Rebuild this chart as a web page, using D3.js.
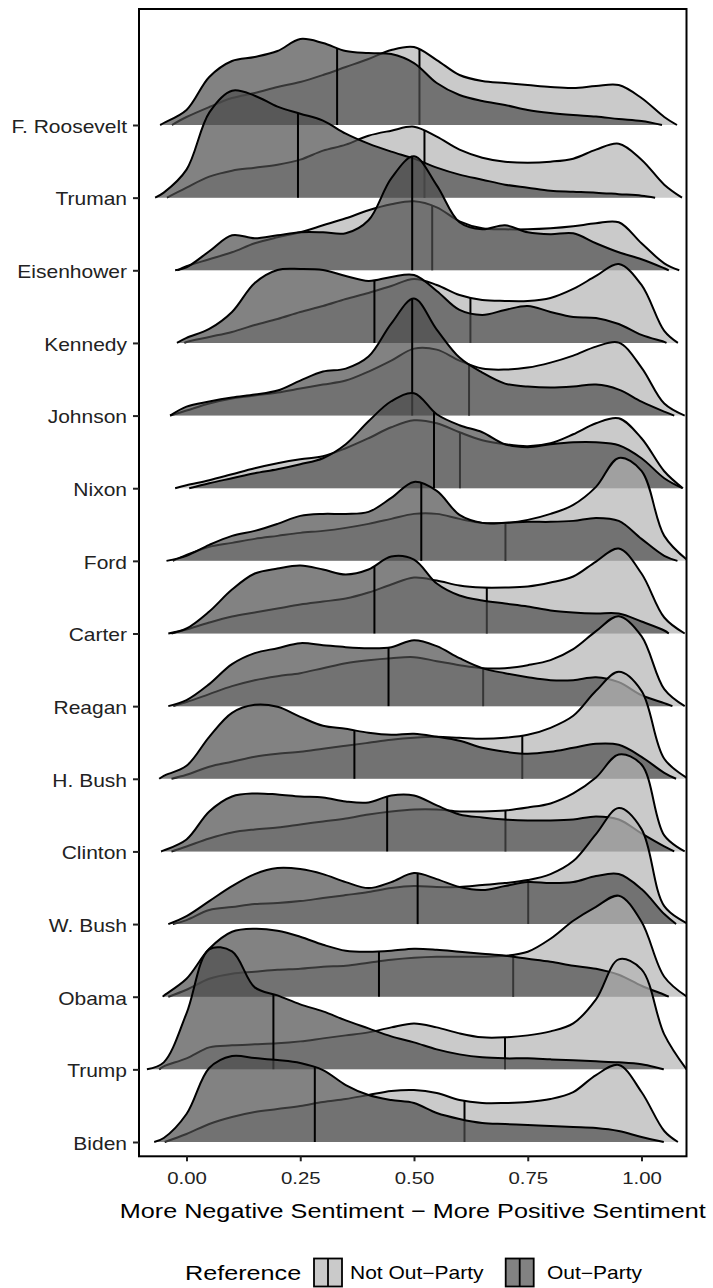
<!DOCTYPE html>
<html>
<head>
<meta charset="utf-8">
<script src="https://cdn.jsdelivr.net/npm/d3@7"></script>
<style>
  body { margin: 0; background: #fff; }
  text { font-family: "Liberation Sans", Arial, Helvetica, sans-serif; fill: #222; }
</style>
</head>
<body>
<svg id="chart" width="713" height="1288"></svg>
<script>
// presidents, top to bottom
var presidents = ["F. Roosevelt", "Truman", "Eisenhower", "Kennedy", "Johnson", "Nixon", "Ford",
                  "Carter", "Reagan", "H. Bush", "Clinton", "W. Bush", "Obama", "Trump", "Biden"];

// density read on a grid from -0.05 to 1.05, step 0.05
var gridStart = -0.05, gridStep = 0.05;

var outParty = [
  [.04,.30,.96,1.28,1.36,1.48,1.72,1.64,1.48,1.44,1.42,1.24,.84,.60,.48,.40,.30,.24,.20,.17,.12,.08,0],
  [.10,.56,1.70,2.14,2.04,1.82,1.68,1.54,1.28,1.08,.92,.78,.60,.46,.36,.26,.20,.14,.12,.10,.07,.04,0],
  [0,.06,.38,.70,.64,.70,.76,.76,.74,1.00,1.84,2.28,1.70,.96,.82,.90,.76,.72,.74,.54,.36,.22,.04],
  [0,.10,.28,.62,1.20,1.46,1.48,1.46,1.34,1.24,1.32,1.36,1.04,.66,.56,.66,.74,.62,.52,.50,.38,.16,.02],
  [0,.18,.28,.36,.42,.50,.70,.88,.94,1.18,1.84,2.34,1.72,1.16,.86,.64,.58,.56,.58,.62,.52,.28,.08],
  [0,0,.10,.20,.30,.38,.48,.60,.88,1.34,1.74,1.90,1.48,1.26,1.12,.88,.82,.88,.92,.92,.86,.60,.20],
  [0,.10,.32,.50,.60,.74,.90,.94,.94,.98,1.26,1.58,1.40,.92,.76,.76,.78,.78,.80,.86,.80,.44,.10],
  [0,.10,.44,.88,1.20,1.30,1.36,1.28,1.18,1.28,1.54,1.48,1.00,.76,.66,.60,.54,.46,.42,.40,.40,.24,.06],
  [0,.12,.44,.84,1.06,1.16,1.26,1.22,1.18,1.16,1.18,1.32,1.20,.96,.76,.66,.58,.52,.52,.58,.48,.22,.06],
  [.06,.26,.84,1.32,1.48,1.44,1.24,1.06,1.00,.92,.88,.90,.84,.76,.62,.54,.50,.54,.62,.70,.68,.44,.12],
  [.02,.24,.80,1.10,1.16,1.14,1.10,1.08,1.00,.98,1.12,1.12,.92,.74,.68,.64,.62,.62,.64,.70,.64,.36,.10],
  [0,.16,.46,.76,1.00,1.12,1.10,1.00,.84,.72,.84,1.02,.90,.74,.68,.76,.84,.82,.84,.96,1.00,.70,.20],
  [.02,.36,.96,1.30,1.36,1.32,1.20,1.04,.92,.90,.92,.96,.94,.90,.86,.82,.76,.70,.62,.56,.44,.22,.04],
  [.14,1.12,2.40,2.36,1.64,1.48,1.30,1.16,.98,.82,.66,.54,.40,.30,.24,.22,.22,.20,.18,.16,.14,.10,0],
  [.08,.56,1.48,1.72,1.68,1.64,1.58,1.44,1.14,.94,.84,.78,.58,.46,.38,.36,.34,.32,.30,.28,.22,.10,0]
];

var notOutParty = [
  [0,.16,.36,.54,.64,.76,.86,1.00,1.16,1.32,1.50,1.56,1.30,1.00,.88,.84,.80,.76,.74,.78,.80,.54,.16],
  [0,.20,.42,.54,.60,.66,.76,.94,1.06,1.24,1.34,1.42,1.22,.96,.80,.72,.70,.72,.78,.96,1.08,.76,.26],
  [0,.08,.22,.36,.54,.66,.76,.90,1.04,1.20,1.32,1.38,1.26,.98,.84,.82,.82,.84,.88,.94,.96,.54,.14],
  [0,.02,.12,.22,.36,.48,.62,.74,.88,1.00,1.14,1.28,1.16,.96,.86,.84,.84,.90,1.08,1.34,1.58,1.16,.24],
  [0,.10,.24,.34,.40,.46,.54,.62,.70,.88,1.10,1.34,1.32,1.10,.94,.92,.96,1.06,1.20,1.38,1.46,.96,.24],
  [0,.06,.16,.28,.40,.50,.58,.64,.80,1.00,1.22,1.36,1.30,1.12,.96,.88,.84,.90,1.08,1.30,1.40,1.00,.34],
  [0,.12,.28,.36,.44,.50,.56,.60,.66,.74,.84,.94,.94,.84,.76,.76,.82,.94,1.12,1.48,2.06,1.80,.50],
  [0,.08,.22,.34,.42,.50,.58,.64,.70,.82,.98,1.12,1.06,.96,.92,.92,.94,1.02,1.14,1.44,1.70,1.20,.32],
  [0,.08,.24,.40,.52,.60,.66,.76,.86,.92,.96,.98,.90,.82,.76,.76,.82,.92,1.14,1.50,1.80,1.40,.34],
  [0,.08,.24,.34,.44,.50,.54,.60,.66,.72,.78,.82,.84,.82,.80,.82,.88,1.02,1.26,1.76,2.14,1.76,.40],
  [0,.10,.26,.38,.44,.48,.54,.60,.66,.74,.80,.84,.84,.80,.80,.82,.88,.96,1.16,1.48,1.94,1.74,.32],
  [0,.08,.28,.34,.40,.42,.46,.52,.58,.64,.72,.76,.74,.74,.78,.82,.88,1.00,1.26,1.80,2.32,1.90,.36],
  [0,.14,.36,.46,.50,.54,.56,.60,.62,.68,.74,.78,.80,.80,.80,.82,.90,1.16,1.52,1.80,2.02,1.50,.40],
  [.06,.22,.44,.48,.50,.52,.56,.62,.68,.74,.84,.92,.84,.72,.64,.64,.68,.76,.92,1.40,2.20,2.00,.70],
  [0,.16,.36,.50,.60,.66,.72,.80,.86,.94,1.02,1.04,.98,.84,.78,.78,.80,.86,1.00,1.34,1.54,1.00,.22]
];

// where each density starts and ends
var outRange = [[-0.058,1.045],[-0.069,1.03],[-0.025,1.06],[-0.021,1.055],[-0.036,1.072],[0.006,1.09],
                [-0.044,1.079],[-0.04,1.06],[-0.04,1.068],[-0.06,1.076],[-0.056,1.072],[-0.04,1.076],
                [-0.052,1.06],[-0.087,1.049],[-0.071,1.049]];
var notRange = [[-0.032,1.078],[-0.043,1.089],[-0.02,1.083],[-0.005,1.08],[-0.036,1.095],[-0.025,1.091],
                [-0.03,1.103],[-0.033,1.095],[-0.029,1.095],[-0.033,1.103],[-0.033,1.095],[-0.03,1.103],
                [-0.04,1.10],[-0.06,1.099],[-0.048,1.08]];

var outMedian = [0.331,0.245,0.496,0.413,0.496,0.544,0.516,0.413,0.444,0.369,0.441,0.508,0.423,0.191,0.282];
var notMedian = [0.512,0.523,0.540,0.624,0.621,0.601,0.701,0.660,0.652,0.738,0.701,0.751,0.718,0.700,0.611];

var xTicks = [0, 0.25, 0.5, 0.75, 1];
var legendLabels = ["Not Out\u2212Party", "Out\u2212Party"];

var svg = d3.select("#chart");
var panel = {left: 139, top: 9, right: 686.5, bottom: 1156.3};
var stretch = "scale(1.2,1)";   // the reference text is drawn wide

var x = d3.scaleLinear().domain([-0.1044, 1.0989]).range([panel.left, panel.right]);
var y = d3.scalePoint().domain(presidents).range([125, 1142]);
var h = d3.scaleLinear().domain([0, 1]).range([0, y.step() * 0.688]);

var fills = {not: "#b3b3b3", out: "#4d4d4d"};
var smooth = d3.curveCatmullRom.alpha(0.5);

svg.append("clipPath").attr("id", "clip")
  .append("rect")
  .attr("x", panel.left).attr("y", panel.top)
  .attr("width", panel.right - panel.left).attr("height", panel.bottom - panel.top);

var ridges = svg.append("g").attr("clip-path", "url(#clip)");

function ridgePoints(vals, range) {
  var pts = [[range[0], 0]];
  vals.forEach(function(v, k) {
    var xv = gridStart + k * gridStep;
    if (xv > range[0] + 1e-6 && xv < range[1] - 1e-6) pts.push([xv, v]);
  });
  pts.push([range[1], 0]);
  return pts;
}

function heightAt(node, px) {
  var lo = 0, hi = node.getTotalLength(), p;
  for (var i = 0; i < 40; i++) {
    var mid = (lo + hi) / 2;
    p = node.getPointAtLength(mid);
    if (p.x < px) lo = mid; else hi = mid;
  }
  return p.y;
}

function drawRidge(g, vals, range, median, base, fill) {
  var pts = ridgePoints(vals, range);
  var area = d3.area()
    .x(function(d) { return x(d[0]); })
    .y0(base)
    .y1(function(d) { return base - h(d[1]); })
    .curve(smooth);
  var line = d3.line()
    .x(function(d) { return x(d[0]); })
    .y(function(d) { return base - h(d[1]); })
    .curve(smooth);

  g.append("path").datum(pts)
    .attr("d", area)
    .attr("fill", fill)
    .attr("fill-opacity", 0.7);
  var outline = g.append("path").datum(pts)
    .attr("d", line)
    .attr("fill", "none")
    .attr("stroke", "#000")
    .attr("stroke-width", 2);

  var top = heightAt(outline.node(), x(median));
  g.append("line")
    .attr("x1", x(median)).attr("x2", x(median))
    .attr("y1", base).attr("y2", top)
    .attr("stroke", "#000")
    .attr("stroke-width", 2);
}

presidents.forEach(function(p, i) {
  var g = ridges.append("g");
  var base = y(p);
  drawRidge(g, notOutParty[i], notRange[i], notMedian[i], base, fills.not);
  drawRidge(g, outParty[i], outRange[i], outMedian[i], base, fills.out);
});

// panel border
svg.append("rect")
  .attr("x", panel.left).attr("y", panel.top)
  .attr("width", panel.right - panel.left).attr("height", panel.bottom - panel.top)
  .attr("fill", "none").attr("stroke", "#000").attr("stroke-width", 2);

// x axis
var xAxis = svg.append("g")
  .attr("transform", "translate(0," + panel.bottom + ")")
  .call(d3.axisBottom(x).tickValues(xTicks).tickFormat(d3.format(".2f")).tickSize(5).tickPadding(0));
xAxis.select(".domain").remove();
xAxis.selectAll(".tick line").attr("stroke", "#222").attr("stroke-width", 2);
xAxis.selectAll(".tick text")
  .attr("y", 27.7).attr("dy", null)
  .attr("transform", stretch)
  .style("font-size", "17px").style("fill", "#222");

// y axis
var yAxis = svg.append("g")
  .attr("transform", "translate(" + panel.left + ",0)")
  .call(d3.axisLeft(y).tickSize(6).tickPadding(0));
yAxis.select(".domain").remove();
yAxis.selectAll(".tick line").attr("stroke", "#222").attr("stroke-width", 2);
yAxis.selectAll(".tick text")
  .attr("x", 0).attr("dy", "0.42em")
  .attr("transform", "translate(-12,0) " + stretch)
  .style("font-size", "17.5px").style("fill", "#222");

// x axis title
svg.append("text")
  .attr("transform", "translate(" + ((panel.left + panel.right) / 2) + ",1218) " + stretch)
  .attr("text-anchor", "middle")
  .style("font-size", "21px")
  .style("fill", "#000")
  .text("More Negative Sentiment \u2212 More Positive Sentiment");

// legend
var legend = svg.append("g");
legend.append("text")
  .attr("transform", "translate(185,1280) " + stretch)
  .style("font-size", "21px").style("fill", "#000")
  .text("Reference");

var keyX = [314, 505.7], labelX = [350, 547], keyFill = [fills.not, fills.out];
legendLabels.forEach(function(lab, i) {
  legend.append("rect")
    .attr("x", keyX[i]).attr("y", 1258.5).attr("width", 28).attr("height", 28)
    .attr("fill", keyFill[i]).attr("fill-opacity", 0.7)
    .attr("stroke", "#000").attr("stroke-width", 1.8);
  legend.append("line")
    .attr("x1", keyX[i] + 14).attr("x2", keyX[i] + 14)
    .attr("y1", 1258.5).attr("y2", 1286.5)
    .attr("stroke", "#000").attr("stroke-width", 1.8);
  legend.append("text")
    .attr("transform", "translate(" + labelX[i] + ",1279) " + stretch)
    .style("font-size", "17.5px").style("fill", "#000")
    .text(lab);
});
</script>
</body>
</html>
